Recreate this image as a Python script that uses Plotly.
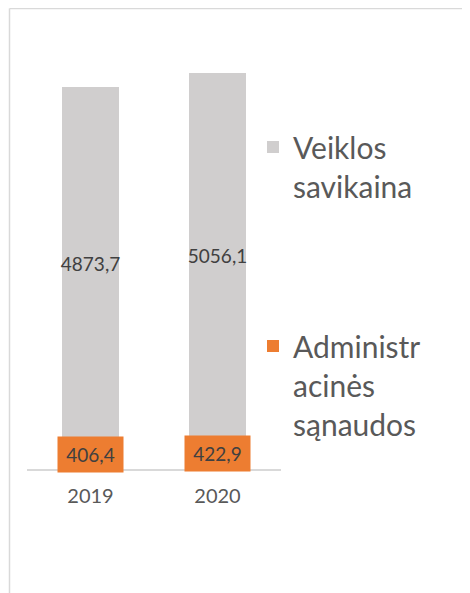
import plotly.graph_objects as go

years = ["2019", "2020"]
admin_costs = [406.4, 422.9]
activity_costs = [4873.7, 5056.1]
admin_name = "Administr<br>acinės<br>sąnaudos"
activity_name = "Veiklos<br>savikaina"

GRAY = "#D0CECE"
ORANGE = "#ED7D31"
TXT = "#595959"
FONT = "Lato"

def fmt(v):
    return f"{v:.1f}".replace(".", ",")

fig = go.Figure()
fig.add_trace(go.Bar(
    x=years, y=admin_costs, name=admin_name, marker_color=ORANGE,
    marker_line_width=0, legendgroup="a", legendrank=2, hoverinfo="skip",
))
fig.add_trace(go.Bar(
    x=years, y=activity_costs, name=activity_name, marker_color=GRAY,
    marker_line_width=0, legendgroup="b", legendrank=1,
    text=[fmt(v) for v in activity_costs], textposition="inside",
    insidetextanchor="middle", constraintext="none", textangle=0,
    textfont=dict(color="#404040", size=19, family=FONT),
    hoverinfo="skip",
))

annotations = []
for i, v in enumerate(admin_costs):
    annotations.append(dict(
        x=i, y=v / 2, xref="x", yref="y", text=fmt(v), showarrow=False,
        bgcolor=ORANGE, width=65, height=35, borderpad=0,
        font=dict(color="#404040", size=19, family=FONT),
    ))

# page body has an 8px margin, so figure coords = screen coords - 8
OFF = 8
W, H = 470 - OFF, 593 - OFF
L, R, T, B = 27 - OFF, W - (281 - OFF), 35 - OFF, H - (469 - OFF)
pw, ph = W - L - R, H - T - B

def px2paper_x(px):
    return (px - OFF - L) / pw

def py2paper_y(py):
    return (H - B - (py - OFF)) / ph

fig.update_layout(
    width=W, height=H,
    margin=dict(l=L, r=R, t=T, b=B, autoexpand=False),
    paper_bgcolor="white", plot_bgcolor="white",
    barmode="stack", bargap=0.551,
    font=dict(family=FONT, color=TXT),
    xaxis=dict(
        type="category", automargin=False, range=[-0.5, 1.5],
        showline=True, linecolor="#D9D9D9", linewidth=1.5, showgrid=False,
        ticks="", tickfont=dict(size=20, color=TXT, family=FONT),
        ticklabelstandoff=8,
        fixedrange=True,
    ),
    yaxis=dict(range=[0, 6000], visible=False, fixedrange=True),
    legend=dict(
        x=px2paper_x(253), xanchor="left",
        y=py2paper_y(121), yanchor="top",
        traceorder="grouped", tracegroupgap=118,
        valign="top",
        font=dict(size=30, color=TXT, family=FONT),
        bgcolor="rgba(0,0,0,0)",
    ),
    annotations=annotations,
    shapes=[
        dict(type="line", xref="paper", yref="paper",
             x0=px2paper_x(9.5), x1=px2paper_x(480), y0=py2paper_y(8.5), y1=py2paper_y(8.5),
             line=dict(color="#D9D9D9", width=1.5)),
        dict(type="line", xref="paper", yref="paper",
             x0=px2paper_x(9.5), x1=px2paper_x(9.5), y0=py2paper_y(8.5), y1=py2paper_y(600),
             line=dict(color="#D9D9D9", width=1.5)),
    ],
)

fig.write_html("out.html")
